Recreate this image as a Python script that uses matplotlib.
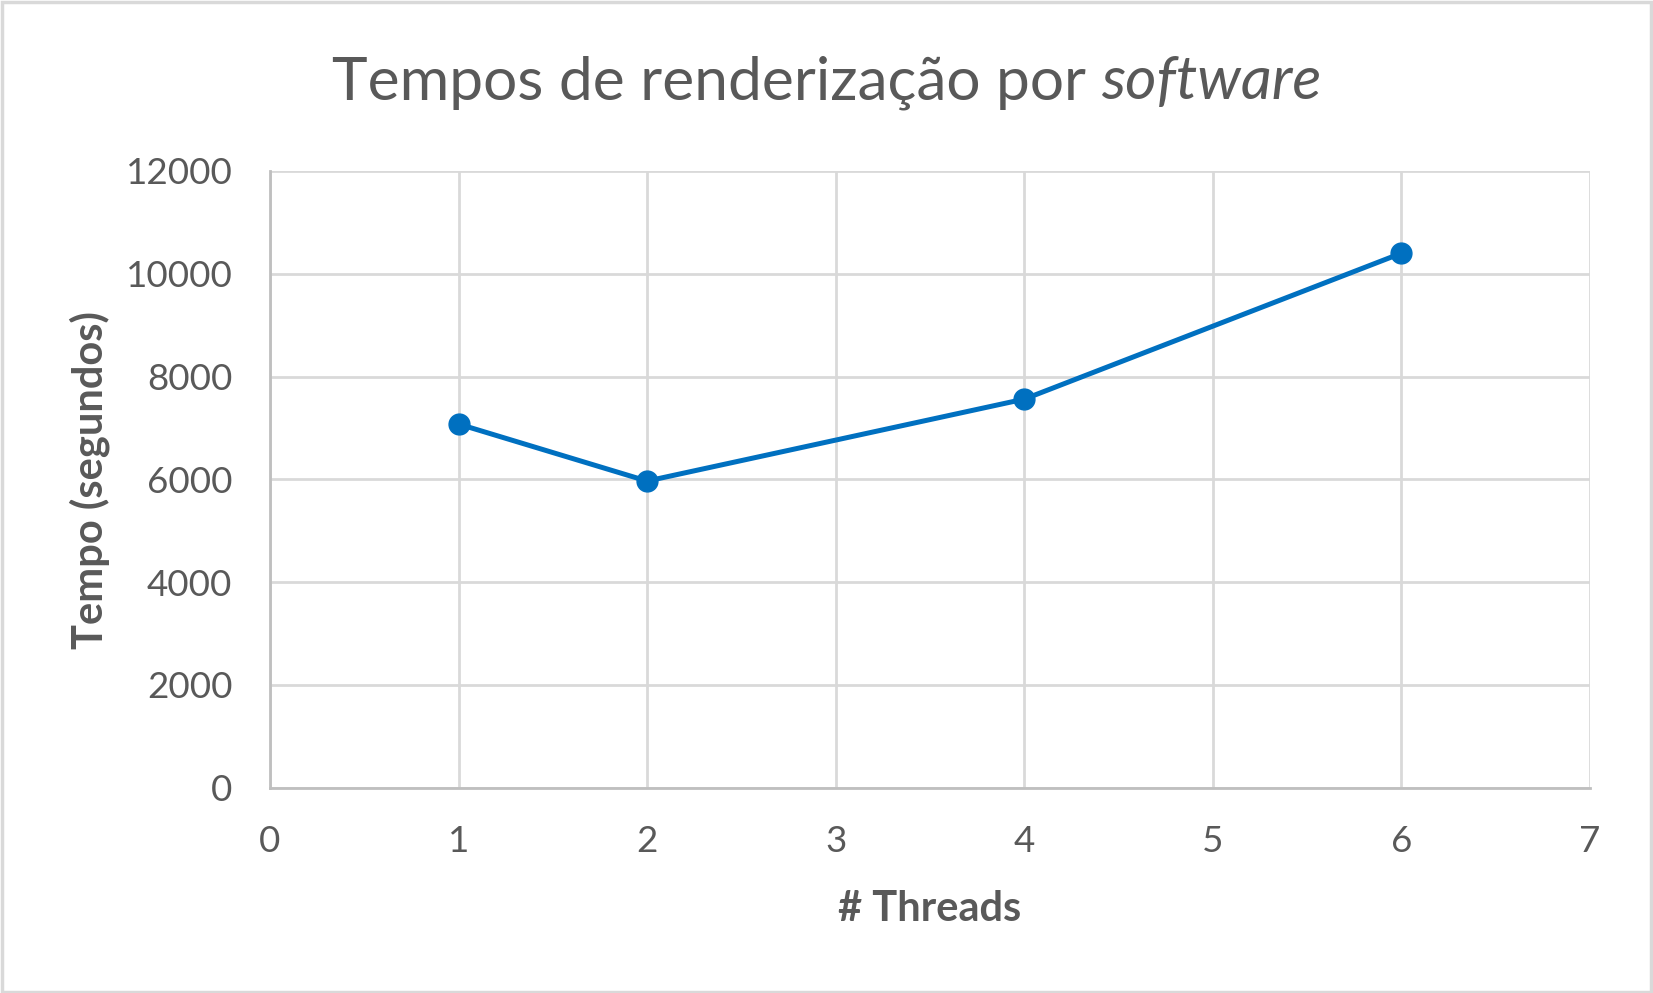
import matplotlib
matplotlib.use("Agg")
import matplotlib.pyplot as plt
from matplotlib.patches import Rectangle

threads = [1, 2, 4, 6]
tempos = [7075, 5965, 7560, 10400]
x_ticks = [0, 1, 2, 3, 4, 5, 6, 7]
y_ticks = [0, 2000, 4000, 6000, 8000, 10000, 12000]

plt.rcParams['font.family'] = ['Lato', 'DejaVu Sans']
txt = '#595959'
grid = '#d9d9d9'

fig = plt.figure(figsize=(16.53, 9.93), dpi=100)
fig.patch.set_facecolor('white')
fig.add_artist(Rectangle((0.001, 0.001), 0.998, 0.997, transform=fig.transFigure,
                         fill=False, edgecolor='#d9d9d9', linewidth=2.5))

ax = fig.add_axes([0.1633, 0.2069, 0.7986, 0.6209])
ax.plot(threads, tempos, color='#0070c0', linewidth=3.6, marker='o',
        markersize=15, markerfacecolor='#0070c0', markeredgecolor='#0070c0',
        zorder=3, clip_on=False)
ax.set_xlim(0, 7)
ax.set_ylim(0, 12000)
ax.set_xticks(x_ticks)
ax.set_yticks(y_ticks)
ax.grid(True, color=grid, linewidth=2)
ax.set_axisbelow(True)
for s in ['top', 'right']:
    ax.spines[s].set_visible(False)
for s in ['left', 'bottom']:
    ax.spines[s].set_color('#bfbfbf')
    ax.spines[s].set_linewidth(2)
ax.tick_params(axis='both', length=0, labelsize=26.5, colors=txt)
ax.tick_params(axis='x', pad=27)
ax.tick_params(axis='y', pad=27)

ax.text(0.5, -0.0846, '', transform=ax.transAxes)
fig.text(0.1633 + 0.7986 / 2, 0.0846, '# Threads', fontsize=30, fontweight='bold',
         color=txt, ha='center', va='center')
fig.text(0.0542, 0.517, 'Tempo (segundos)', fontsize=30, fontweight='bold', color=txt,
         ha='center', va='center', rotation=90)

t1 = fig.text(0.5, 0.9, 'Tempos de renderização por ', fontsize=43.5, color=txt,
              ha='left', va='baseline')
t2 = fig.text(0.5, 0.9, 'software', fontsize=43.5, color=txt, style='italic',
              ha='left', va='baseline')
fig.canvas.draw()
r = fig.canvas.get_renderer()
b1 = t1.get_window_extent(r)
b2 = t2.get_window_extent(r)
W = fig.bbox.width
total = b1.width + b2.width
x0 = (W * 0.5 - total / 2) / W
t1.set_x(x0)
t2.set_x(x0 + b1.width / W)

fig.savefig('out.png', dpi=100)
